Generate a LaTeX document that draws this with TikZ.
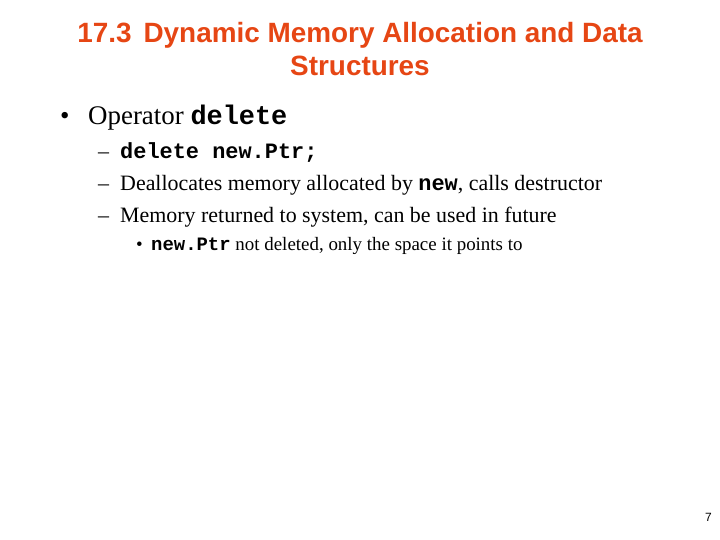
\documentclass[tikz,border=0pt]{standalone}
\usepackage{fontspec}
\setmainfont{Liberation Serif}
\newfontfamily\titlefont{Liberation Sans}
\setmonofont{Liberation Mono}
\definecolor{titleorange}{RGB}{230,70,20}
\begin{document}
\begin{tikzpicture}[x=1bp,y=-1bp,
  txt/.style={anchor=base west,inner sep=0pt},
  ttl/.style={anchor=base,inner sep=0pt,font=\titlefont\bfseries\fontsize{28}{32}\selectfont,text=titleorange}]
\useasboundingbox (0,0) rectangle (720,540);
\node[ttl] (t1) at (360,43) {17.3\hspace{12bp}Dynamic Memory Allocation and Data};
\node[ttl] (t2) at (360,76) {Structures};
\node[txt,font=\fontsize{27}{30}\selectfont] (b1) at (60,125) {•};
\node[txt,font=\fontsize{27}{30}\selectfont] (b1t) at (88,125) {Operator \texttt{\bfseries delete}};
\node[txt,font=\fontsize{22}{26}\selectfont] (d1) at (98,159) {–};
\node[txt,font=\fontsize{22}{26}\selectfont] (s1) at (120,159) {\texttt{\bfseries delete new.Ptr;}};
\node[txt,font=\fontsize{22}{26}\selectfont] (d2) at (98,191) {–};
\node[txt,font=\fontsize{22}{26}\selectfont] (s2) at (120,191) {Deallocates memory allocated by \texttt{\bfseries new}, calls destructor};
\node[txt,font=\fontsize{22}{26}\selectfont] (d3) at (98,223) {–};
\node[txt,font=\fontsize{22}{26}\selectfont] (s3) at (120,223) {Memory returned to system, can be used in future};
\node[txt,font=\fontsize{19}{22}\selectfont] (d4) at (136,251) {•};
\node[txt,font=\fontsize{19}{22}\selectfont] (s4) at (151,251) {\texttt{\bfseries new.Ptr} not deleted, only the space it points to};
\node[txt,font=\titlefont\fontsize{12}{14}\selectfont] (pg) at (705,521) {7};
\end{tikzpicture}
\end{document}
